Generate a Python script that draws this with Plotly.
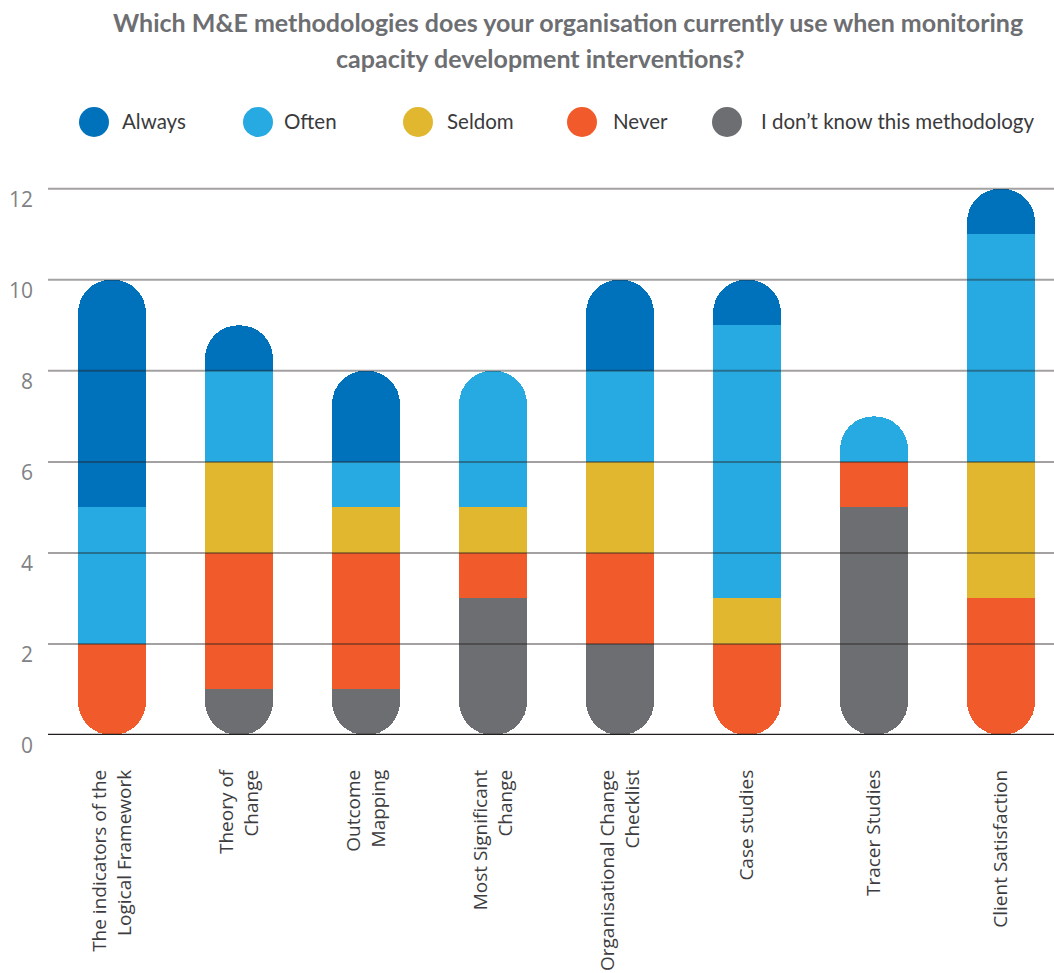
import plotly.graph_objects as go

# Survey answers per methodology (number of organisations)
categories = [
    "The indicators of the<br>Logical Framework",
    "Theory of<br>Change",
    "Outcome<br>Mapping",
    "Most Significant<br>Change",
    "Organisational Change<br>Checklist",
    "Case studies",
    "Tracer Studies",
    "Client Satisfaction",
]
dont_know = [0, 1, 1, 3, 2, 0, 5, 0]
never = [2, 3, 3, 1, 2, 2, 1, 3]
seldom = [0, 2, 1, 1, 2, 1, 0, 3]
often = [3, 2, 1, 3, 2, 6, 1, 5]
always = [5, 1, 2, 0, 2, 1, 0, 1]

y_ticks = [0, 2, 4, 6, 8, 10, 12]

# stacking order, bottom to top
series_names = ["I don’t know this methodology", "Never", "Seldom", "Often", "Always"]
series_values = [dont_know, never, seldom, often, always]
series_colors = ["#6d6e71", "#f15a2b", "#e0b72f", "#27a9e1", "#0071bb"]

BAR_W = 0.535
Y_MAX = 12.5
n = len(categories)

# first non-empty segment of every column gets a rounded bottom
bottom_idx = [next(k for k in range(len(series_values)) if series_values[k][i] > 0) for i in range(n)]
bottom_h = [series_values[bottom_idx[i]][i] for i in range(n)]

fig = go.Figure()

# invisible spacer that lifts the stacked segments above the bottom segment
fig.add_trace(go.Bar(
    x=categories, y=bottom_h, width=BAR_W,
    marker=dict(color="rgba(0,0,0,0)", line=dict(width=0)),
    hoverinfo="skip", showlegend=False,
))

for k, (name, vals, col) in enumerate(zip(series_names, series_values, series_colors)):
    fig.add_trace(go.Bar(
        x=categories,
        y=[0 if bottom_idx[i] == k else v for i, v in enumerate(vals)],
        width=BAR_W, name=name,
        marker=dict(color=col, line=dict(width=0)),
        showlegend=False,
    ))

# bottom segments: stacked on a flipped twin axis (y2 = Y_MAX - y) so that the
# rounded outer end of that stack lands on zero
fig.add_trace(go.Bar(
    x=categories, y=[Y_MAX - h for h in bottom_h], width=BAR_W, yaxis="y2",
    marker=dict(color="rgba(0,0,0,0)", line=dict(width=0)),
    hoverinfo="skip", showlegend=False,
))
fig.add_trace(go.Bar(
    x=categories, y=bottom_h, width=BAR_W, yaxis="y2",
    marker=dict(color=[series_colors[b] for b in bottom_idx], line=dict(width=0)),
    customdata=[series_names[b] for b in bottom_idx],
    hovertemplate="%{customdata}: %{y}<extra></extra>",
    showlegend=False,
))

# horizontal reference lines on top of the bars
shapes = []
for t in y_ticks[1:]:
    shapes.append(dict(type="line", xref="paper", x0=0, x1=1, yref="y", y0=t, y1=t,
                       line=dict(color="rgba(35,31,32,0.42)", width=2), layer="above"))
shapes.append(dict(type="line", xref="paper", x0=0, x1=1, yref="y", y0=0, y1=0,
                   line=dict(color="#231f20", width=2.5), layer="above"))

# custom legend with large round swatches
W, H = 1054, 973
ML, MR, MT, MB = 48, 0, 166, 238
PW, PH = W - ML - MR, H - MT - MB


def px_x(p):
    return (p - ML) / PW


def px_y(p):
    return (H - MB - p) / PH


legend_order = [4, 3, 2, 1, 0]
legend_circle_x = [94, 258, 418, 582, 727]
legend_text_x = [121, 283, 446, 612, 760]
legend_y = 122
annotations = []
for pos, k in enumerate(legend_order):
    shapes.append(dict(
        type="circle", xref="paper", yref="paper",
        xsizemode="pixel", ysizemode="pixel",
        xanchor=px_x(legend_circle_x[pos]), yanchor=px_y(legend_y),
        x0=-15, x1=15, y0=-15, y1=15,
        fillcolor=series_colors[k], line=dict(width=0),
    ))
    annotations.append(dict(
        text=series_names[k], xref="paper", yref="paper",
        x=px_x(legend_text_x[pos] - 1), y=px_y(legend_y - 1),
        xanchor="left", yanchor="middle", showarrow=False,
        font=dict(family="Lato", size=20.5, color="#3a3a3c"),
    ))

title_lines = [
    "Which M&E methodologies does your organisation currently use when monitoring",
    "capacity development interventions?",
]
for line, xp, yp in zip(title_lines, [568, 540], [22, 58]):
    annotations.append(dict(
        text="<b>" + line + "</b>", xref="paper", yref="paper",
        x=px_x(xp), y=px_y(yp), xanchor="center", yanchor="middle", showarrow=False,
        font=dict(family="Lato", size=25, color="#6d6e71"),
    ))

fig.update_layout(
    width=W, height=H,
    margin=dict(l=ML, r=MR, t=MT, b=MB, pad=0),
    barmode="stack",
    barcornerradius="50%",
    plot_bgcolor="white", paper_bgcolor="white",
    showlegend=False,
    shapes=shapes,
    annotations=annotations,
    xaxis=dict(
        type="category", range=[-0.504, 7.417],
        tickangle=-90, showgrid=False, zeroline=False, showline=False, ticks="",
        tickfont=dict(family="Open Sans", size=19, color="#3d3d3f"),
        ticklabelstandoff=30,
    ),
    yaxis=dict(
        range=[0, Y_MAX], tickvals=y_ticks, showgrid=False, zeroline=False,
        showline=False, ticks="",
        tickfont=dict(family="Open Sans", size=21, color="#808285"),
        ticklabelshift=11, ticklabelstandoff=14,
    ),
    yaxis2=dict(
        overlaying="y", range=[Y_MAX, 0], visible=False,
        showgrid=False, zeroline=False,
    ),
)

fig.write_html("out.html")
